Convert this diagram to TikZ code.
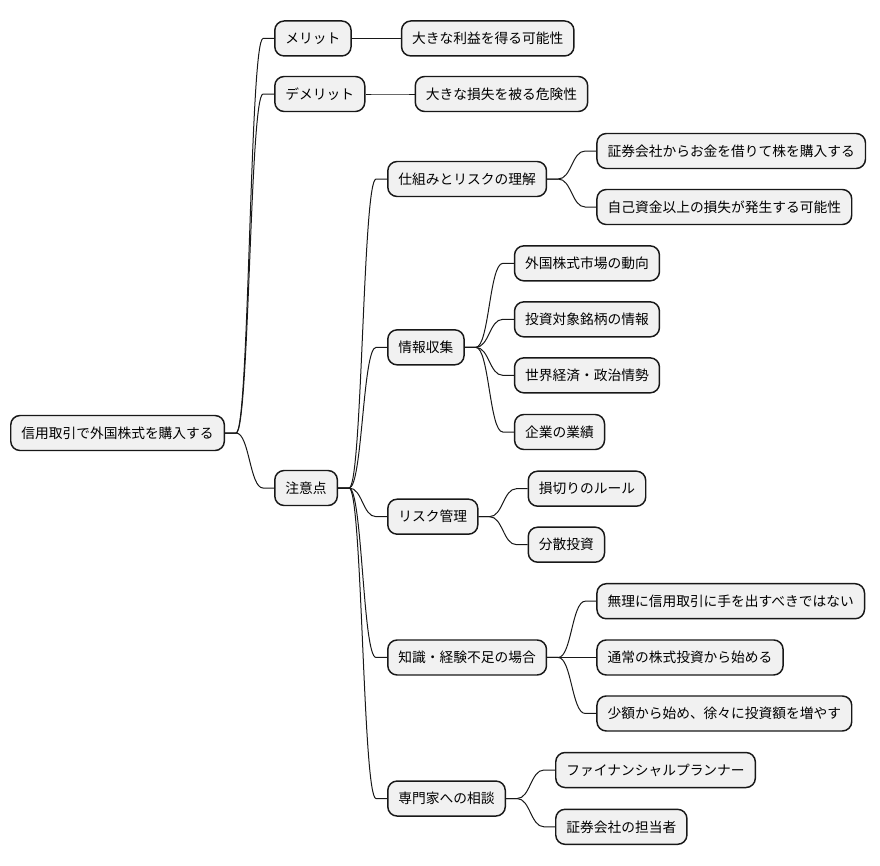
\documentclass[tikz,border=0pt]{standalone}
\usepackage{fontspec}
\setmainfont{Noto Sans CJK JP}
\usetikzlibrary{positioning}
\definecolor{boxfill}{HTML}{F1F1F1}
\definecolor{boxline}{HTML}{181818}
\tikzset{
  topic/.style={draw=boxline, fill=boxfill, line width=1.1pt, rounded corners=7pt,
    minimum height=26.25pt, inner xsep=8pt, inner ysep=0pt,
    font=\fontsize{10.3pt}{12pt}\selectfont},
  link/.style={draw=boxline, line width=0.75pt},
}
\newcommand{\branch}[2]{%
  \draw[link] (#1.east) -- ++(8.25pt,0) .. controls +(10pt,0) and +(-10pt,0) .. ([xshift=-8.25pt]#2.west) -- (#2.west);}

\begin{document}
\begin{tikzpicture}
  \useasboundingbox (0,0) rectangle (660pt,-648.75pt);
  % root
  \node[topic, anchor=west] (root) at (7.5pt,-324.75pt) {信用取引で外国株式を購入する};
  % first level
  \node[topic, right=36.75pt of root, yshift=295.9pt] (merit) {メリット};
  \node[topic, right=36.75pt of root, yshift=254.25pt] (demerit) {デメリット};
  \node[topic, right=36.75pt of root, yshift=-41.25pt] (caution) {注意点};
  % second level
  \node[topic, right=36.75pt of merit] (gain) {大きな利益を得る可能性};
  \node[topic, right=36.75pt of demerit] (loss) {大きな損失を被る危険性};
  \node[topic, right=36.75pt of caution, yshift=231.75pt] (mech) {仕組みとリスクの理解};
  \node[topic, right=36.75pt of caution, yshift=105.5pt] (info) {情報収集};
  \node[topic, right=36.75pt of caution, yshift=-21.5pt] (risk) {リスク管理};
  \node[topic, right=36.75pt of caution, yshift=-127.1pt] (lack) {知識・経験不足の場合};
  \node[topic, right=36.75pt of caution, yshift=-232.9pt] (expert) {専門家への相談};
  % third level
  \node[topic, right=36.75pt of mech, yshift=21pt] (mechA) {証券会社からお金を借りて株を購入する};
  \node[topic, right=36.75pt of mech, yshift=-21pt] (mechB) {自己資金以上の損失が発生する可能性};
  \node[topic, right=36.75pt of info, yshift=63pt] (infoA) {外国株式市場の動向};
  \node[topic, right=36.75pt of info, yshift=21pt] (infoB) {投資対象銘柄の情報};
  \node[topic, right=36.75pt of info, yshift=-21pt] (infoC) {世界経済・政治情勢};
  \node[topic, right=36.75pt of info, yshift=-63.5pt] (infoD) {企業の業績};
  \node[topic, right=36.75pt of risk, yshift=21pt] (riskA) {損切りのルール};
  \node[topic, right=36.75pt of risk, yshift=-21pt] (riskB) {分散投資};
  \node[topic, right=36.75pt of lack, yshift=42.2pt] (lackA) {無理に信用取引に手を出すべきではない};
  \node[topic, right=36.75pt of lack] (lackB) {通常の株式投資から始める};
  \node[topic, right=36.75pt of lack, yshift=-42pt] (lackC) {少額から始め、徐々に投資額を増やす};
  \node[topic, right=36.75pt of expert, yshift=21.4pt] (expertA) {ファイナンシャルプランナー};
  \node[topic, right=36.75pt of expert, yshift=-21.2pt] (expertB) {証券会社の担当者};
  % connectors
  \foreach \c in {merit,demerit,caution} \branch{root}{\c};
  \branch{merit}{gain}
  \branch{demerit}{loss}
  \foreach \c in {mech,info,risk,lack,expert} \branch{caution}{\c};
  \foreach \c in {mechA,mechB} \branch{mech}{\c};
  \foreach \c in {infoA,infoB,infoC,infoD} \branch{info}{\c};
  \foreach \c in {riskA,riskB} \branch{risk}{\c};
  \foreach \c in {lackA,lackB,lackC} \branch{lack}{\c};
  \foreach \c in {expertA,expertB} \branch{expert}{\c};
\end{tikzpicture}
\end{document}
